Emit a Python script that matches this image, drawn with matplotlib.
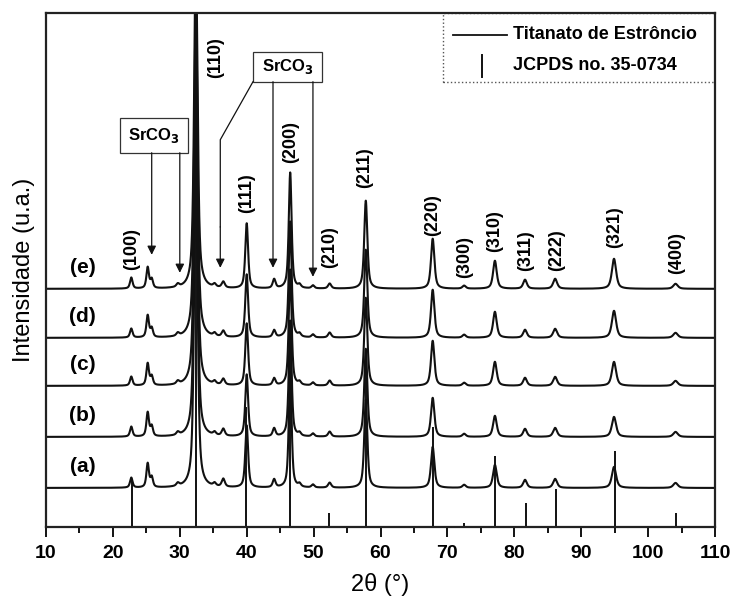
import numpy as np
import matplotlib
matplotlib.use("Agg")
import matplotlib.pyplot as plt
from matplotlib.patches import Rectangle

plt.rcParams['font.family'] = ['Liberation Sans', 'DejaVu Sans']

# posicoes dos picos (2theta)
peak_pos = [22.75, 25.2, 25.8, 29.7, 32.4, 35.2, 36.5, 40.0, 44.1, 46.5, 47.9,
            49.9, 52.4, 57.8, 67.8, 72.5, 77.1, 81.6, 86.1, 94.9, 104.1]
peak_fwhm = [0.45, 0.45, 0.45, 0.5, 0.6, 0.5, 0.55, 0.5, 0.5, 0.5, 0.5,
             0.5, 0.55, 0.55, 0.6, 0.6, 0.65, 0.65, 0.7, 0.75, 0.8]
# alturas dos picos de cada amostra (u.a.)
h_a = [10, 24, 10, 3, 340, 3, 8, 62, 8, 116, 3, 3, 5, 88, 41, 3, 23, 8, 9, 21, 5]
h_b = [10, 24, 10, 3, 340, 3, 7, 62, 8, 116, 3, 3, 5, 88, 39, 3, 21, 8, 9, 20, 5]
h_c = [9, 22, 9, 3, 340, 3, 6, 62, 7, 116, 3, 3, 5, 88, 45, 3, 24, 8, 9, 24, 5]
h_d = [9, 22, 9, 3, 340, 3, 6, 63, 7, 116, 3, 3, 5, 88, 48, 3, 26, 8, 9, 27, 5]
h_e = [11, 21, 9, 3, 340, 3, 6, 65, 9, 116, 3, 3, 5, 88, 50, 3, 28, 9, 10, 30, 5]
samples = ['(a)', '(b)', '(c)', '(d)', '(e)']
offsets = [39, 90, 141, 189, 238]

# JCPDS 35-0734
jcpds_pos = [22.78, 32.42, 39.96, 46.47, 52.35, 57.79, 67.81, 72.53, 77.17,
             81.73, 86.19, 95.12, 104.18]
jcpds_int = [48, 400, 120, 200, 14, 160, 100, 4, 71, 24, 38, 76, 14]

hkl = ['(100)', '(110)', '(111)', '(200)', '(210)', '(211)', '(220)', '(300)',
       '(310)', '(311)', '(222)', '(321)', '(400)']
hkl_x = [22.8, 35.3, 40.0, 46.5, 52.4, 57.7, 67.8, 72.6, 77.1, 81.7, 86.3, 95.0, 104.3]
hkl_y = [278, 469, 334, 385, 280, 359, 312, 270, 296, 276, 277, 300, 274]

x = np.linspace(10, 110, 8001)


def profile(pos, heights, widths, eta=0.65):
    y = np.zeros_like(x)
    for p, h, w in zip(pos, heights, widths):
        d = (x - p) / (w / 2)
        y += h * (eta / (1 + d ** 2) + (1 - eta) * np.exp(-np.log(2) * d ** 2))
    return y


fig = plt.figure(figsize=(7.36, 6.06), dpi=100)
ax = fig.add_axes([0.0625, 0.1304, 0.909, 0.8487])

for lab, off, h in zip(samples, offsets, [h_a, h_b, h_c, h_d, h_e]):
    ax.plot(x, off + profile(peak_pos, h, peak_fwhm), color='#111111', lw=1.5)
    ax.text(15.5, off + 21, lab, fontsize=15, fontweight='bold',
            ha='center', va='center')

ax.vlines(jcpds_pos, 0, jcpds_int, color='#111111', lw=1.4)

for t, px, py in zip(hkl, hkl_x, hkl_y):
    ax.text(px, py, t, rotation=90, fontsize=13, fontweight='bold',
            ha='center', va='center')

# SrCO3 (esquerda)
ax.add_patch(Rectangle((21.06, 374), 10.17, 35, fill=False, lw=0.9, ec='#333333'))
ax.text(26.15, 391.5, 'SrCO$_\\mathbf{3}$', fontsize=12, fontweight='bold',
        ha='center', va='center')
arrow = dict(arrowstyle='-|>', lw=0.9, color='#111111', mutation_scale=13,
             shrinkA=0, shrinkB=0)
for ax_x, tip in [(25.8, 272), (30.0, 254)]:
    ax.annotate('', xy=(ax_x, tip), xytext=(ax_x, 374), arrowprops=arrow)

# SrCO3 (direita)
ax.add_patch(Rectangle((40.94, 445), 10.32, 30, fill=False, lw=0.9, ec='#333333'))
ax.text(46.1, 460, 'SrCO$_\\mathbf{3}$', fontsize=12, fontweight='bold',
        ha='center', va='center')
ax.plot([40.94, 36.05, 36.05], [445, 387, 300], color='#111111', lw=0.9)
ax.annotate('', xy=(36.05, 259), xytext=(36.05, 300), arrowprops=arrow)
for ax_x, tip in [(43.93, 259), (49.9, 250)]:
    ax.annotate('', xy=(ax_x, tip), xytext=(ax_x, 445), arrowprops=arrow)

# legenda
ax.add_patch(Rectangle((69.34, 445), 40.6, 69, fill=False, lw=1.0, ls=':',
                       ec='#555555'))
ax.plot([70.84, 78.91], [492, 492], color='#111111', lw=1.3)
ax.plot([75.17, 75.17], [450, 472], color='#111111', lw=1.4)
ax.text(79.8, 492, 'Titanato de Estrôncio', fontsize=13, fontweight='bold', va='center')
ax.text(79.8, 461, 'JCPDS no. 35-0734', fontsize=13, fontweight='bold', va='center')

ax.set_xlim(10, 110)
ax.set_ylim(0, 514)
ax.set_xticks(np.arange(10, 111, 10))
ax.set_xticks(np.arange(15, 110, 10), minor=True)
ax.set_yticks([])
ax.tick_params(axis='x', which='major', length=7, width=1.3, labelsize=14, pad=6)
ax.tick_params(axis='x', which='minor', length=4, width=1.3)
for lbl in ax.get_xticklabels():
    lbl.set_fontweight('bold')
for s in ax.spines.values():
    s.set_linewidth(1.6)
    s.set_color('#222222')

ax.set_xlabel('2θ (°)', fontsize=17, labelpad=8)
ax.set_ylabel('Intensidade (u.a.)', fontsize=17, labelpad=8)

fig.savefig('out.png', dpi=100)
